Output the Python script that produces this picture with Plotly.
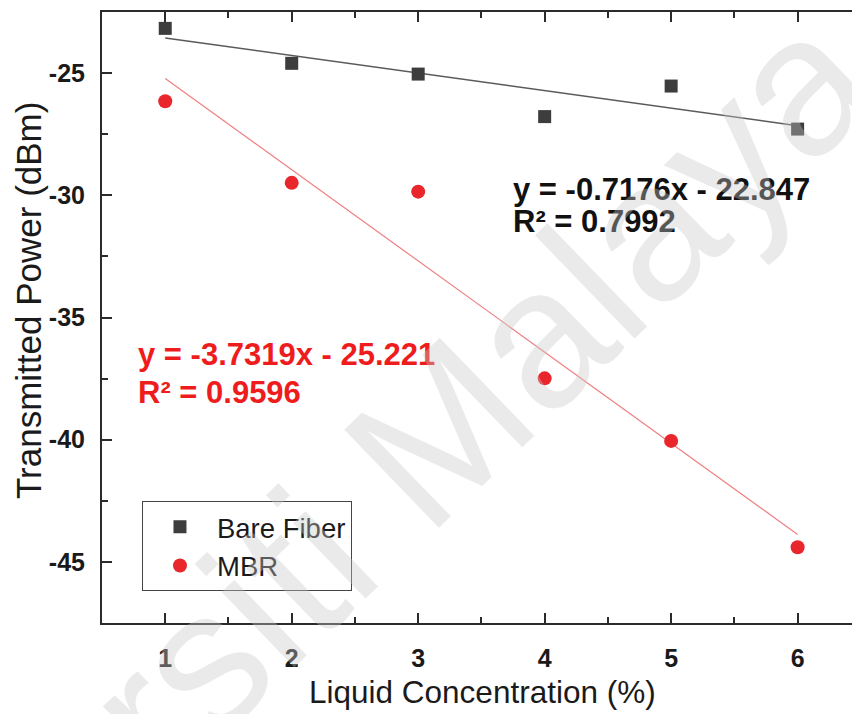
import plotly.graph_objects as go

# Liquid concentration (%) and measured transmitted power (dBm)
concentration = [1, 2, 3, 4, 5, 6]
bare_fiber_power = [-23.17, -24.60, -25.04, -26.78, -25.53, -27.29]
mbr_power = [-26.15, -29.49, -29.85, -37.49, -40.05, -44.40]

# Linear trendlines (slope, intercept, R^2); the MBR fit was made against
# the sample index (0..5), so its x origin sits at the first concentration.
bare_fit = {"slope": -0.7176, "intercept": -22.847, "r2": 0.7992, "x0": 0}
mbr_fit = {"slope": -3.7319, "intercept": -25.221, "r2": 0.9596, "x0": 1}

x_ticks = [1, 2, 3, 4, 5, 6]
y_ticks = [-45, -40, -35, -30, -25]

FONT = "Liberation Sans, Arial, sans-serif"
BARE_COLOR = "#3d3d3d"
MBR_COLOR = "#e8262b"
AXIS_COLOR = "#2b2b2b"
TEXT_COLOR = "#1a1a1a"


def fit_line(fit, xs):
    return [fit["slope"] * (x - fit["x0"]) + fit["intercept"] for x in xs]


def equation_text(fit):
    return (f"y = {fit['slope']}x - {abs(fit['intercept'])}",
            f"R² = {fit['r2']}")


fit_x = [concentration[0], concentration[-1]]

fig = go.Figure()

fig.add_trace(go.Scatter(
    x=fit_x, y=fit_line(bare_fit, fit_x), mode="lines",
    line=dict(color="#5a5a5a", width=1.5), showlegend=False, hoverinfo="skip"))
fig.add_trace(go.Scatter(
    x=fit_x, y=fit_line(mbr_fit, fit_x), mode="lines",
    line=dict(color="#ef7f80", width=1.2), showlegend=False, hoverinfo="skip"))

fig.add_trace(go.Scatter(
    x=concentration, y=bare_fiber_power, mode="markers", name="Bare Fiber",
    marker=dict(symbol="square", size=13, color=BARE_COLOR)))
fig.add_trace(go.Scatter(
    x=concentration, y=mbr_power, mode="markers", name="MBR",
    marker=dict(symbol="circle", size=14, color=MBR_COLOR)))

# Trendline equations
bare_eq, bare_r2 = equation_text(bare_fit)
mbr_eq, mbr_r2 = equation_text(mbr_fit)
eq_font = dict(family=FONT, size=31)
for text, x, y, color in [
    (bare_eq, 3.737, -29.75, "#111111"),
    (bare_r2, 3.737, -31.08, "#111111"),
    (mbr_eq, 0.771, -36.52, "#ee1c1c"),
    (mbr_r2, 0.771, -38.06, "#ee1c1c"),
]:
    fig.add_annotation(
        x=x, y=y, xref="x", yref="y", text=f"<b>{text}</b>", showarrow=False,
        xanchor="left", yanchor="middle", font=dict(color=color, **eq_font))

# Y-axis title
fig.add_annotation(
    x=-0.0987, y=0.5286, xref="paper", yref="paper",
    text="Transmitted Power (dBm)", showarrow=False, textangle=-90,
    xanchor="center", yanchor="middle",
    font=dict(family=FONT, size=35, color=TEXT_COLOR))

# X-axis title
fig.add_annotation(
    x=0.507, y=-0.113, xref="paper", yref="paper",
    text="Liquid Concentration (%)", showarrow=False,
    xanchor="center", yanchor="middle",
    font=dict(family=FONT, size=31.5, color=TEXT_COLOR))

# Repository watermark
fig.add_annotation(
    x=0.26, y=0.087, xref="paper", yref="paper", text="Universiti Malaya",
    showarrow=False, textangle=-44, xanchor="center", yanchor="middle",
    font=dict(family=FONT, size=198, color="rgba(200,200,200,0.38)"))

axis_common = dict(
    showline=True, linecolor=AXIS_COLOR, linewidth=2,
    ticks="inside", ticklen=10, tickwidth=2, tickcolor=AXIS_COLOR,
    showgrid=False, zeroline=False,
    tickfont=dict(family=FONT, size=25, color=TEXT_COLOR, weight="bold"),
)

fig.update_xaxes(
    range=[0.5, 6.43], tickvals=x_ticks, ticktext=[str(v) for v in x_ticks],
    ticklabelstandoff=12, mirror="ticks",
    minor=dict(dtick=0.5, ticks="inside", ticklen=6, tickwidth=2,
               tickcolor=AXIS_COLOR),
    **axis_common)
fig.update_yaxes(
    range=[-47.5, -22.5], tickvals=y_ticks, ticktext=[str(v) for v in y_ticks],
    ticklabelstandoff=10, mirror=False,
    minor=dict(dtick=2.5, ticks="inside", ticklen=6, tickwidth=2,
               tickcolor=AXIS_COLOR),
    **axis_common)

fig.update_layout(
    width=852, height=714,
    margin=dict(l=102, r=0, t=12, b=91, autoexpand=False),
    plot_bgcolor="white", paper_bgcolor="white",
    legend=dict(
        x=0.0533, y=0.199, xanchor="left", yanchor="top",
        bgcolor="white", bordercolor="#444444", borderwidth=1,
        font=dict(family=FONT, size=27.5, color=TEXT_COLOR),
        itemwidth=64, tracegroupgap=0),
    showlegend=True,
)

fig.write_html("out.html")
